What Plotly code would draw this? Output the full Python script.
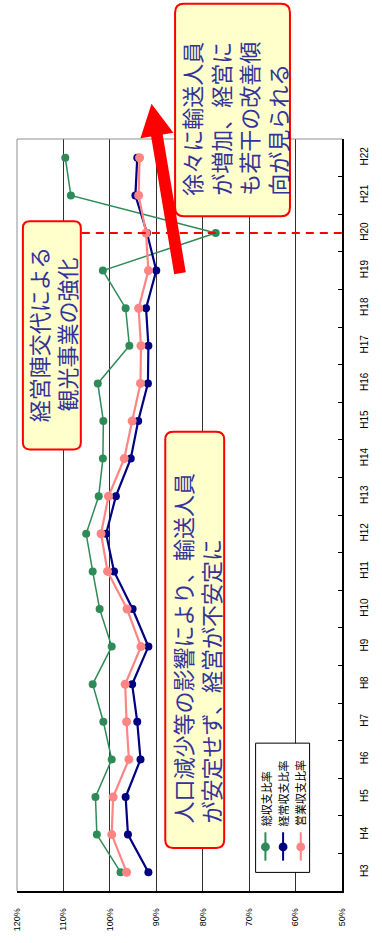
import plotly.graph_objects as go

years = ["H3", "H4", "H5", "H6", "H7", "H8", "H9", "H10", "H11", "H12",
         "H13", "H14", "H15", "H16", "H17", "H18", "H19", "H20", "H21", "H22"]
total_ratio = [97.7, 102.8, 103.1, 99.6, 101.4, 103.7, 99.6, 102.2, 103.7, 105.1,
               102.4, 101.5, 101.4, 102.6, 95.8, 96.6, 101.5, 77.2, 108.4, 109.6]
ordinary_ratio = [91.7, 96.1, 96.6, 93.4, 94.1, 95.2, 91.7, 95.1, 99.1, 100.8,
                  98.7, 95.5, 93.9, 91.8, 91.7, 92.2, 90.0, 92.0, 94.5, 94.1]
operating_ratio = [96.4, 99.6, 99.3, 95.9, 96.4, 96.7, 93.3, 96.3, 100.5, 101.9,
                   100.3, 96.9, 95.2, 93.4, 93.3, 93.8, 91.7, 92.2, 93.8, 93.6]
series_names = ["総収支比率", "経常収支比率", "営業収支比率"]
series_colors = ["#2E8B57", "#000080", "#FF8585"]
pct_ticks = [50, 60, 70, 80, 90, 100, 110, 120]
pct_labels = [f"{v}%" for v in pct_ticks]

W, H = 382, 943
L, R, T, B = 16, 347, 139, 907


def px(x):
    return (x - L) / (R - L)


def py(y):
    return (B - y) / (B - T)


def rrect(x0, y0, x1, y1, r):
    def p(x, y):
        return f"{px(x):.5f},{py(y):.5f}"
    s = f"M {p(x0 + r, y0)} L {p(x1 - r, y0)} Q {p(x1, y0)} {p(x1, y0 + r)} "
    s += f"L {p(x1, y1 - r)} Q {p(x1, y1)} {p(x1 - r, y1)} "
    s += f"L {p(x0 + r, y1)} Q {p(x0, y1)} {p(x0, y1 - r)} "
    s += f"L {p(x0, y0 + r)} Q {p(x0, y0)} {p(x0 + r, y0)} Z"
    return s


fig = go.Figure()
widths = [1.5, 2.2, 2.2]
sizes = [8, 8, 9]
for name, vals, col, w, s in zip(series_names, [total_ratio, ordinary_ratio, operating_ratio],
                                 series_colors, widths, sizes):
    fig.add_trace(go.Scatter(x=vals, y=years, mode="lines+markers", name=name,
                             line=dict(color=col, width=w),
                             marker=dict(color=col, size=s),
                             showlegend=False))

shapes = []
shapes.append(dict(type="line", xref="paper", yref="paper", x0=0, x1=1, y0=1, y1=1,
                   line=dict(color="#909090", width=1)))
shapes.append(dict(type="line", xref="paper", yref="paper", x0=0, x1=0, y0=0, y1=1,
                   line=dict(color="#909090", width=1)))
shapes.append(dict(type="line", xref="paper", yref="y", x0=px(82), x1=1,
                   y0=years.index("H20"), y1=years.index("H20"),
                   line=dict(color="#FF0000", width=2, dash="8px,6px")))
arrow_pts = [(176.1, 277.0), (187.9, 275.0), (164.4, 134.5), (175.3, 132.7),
             (153.0, 103.0), (141.7, 138.3), (152.6, 136.5)]
path = "M " + " L ".join(f"{px(x):.5f},{py(y):.5f}" for x, y in arrow_pts) + " Z"
shapes.append(dict(type="path", xref="paper", yref="paper", path=path,
                   fillcolor="#FF0000", line=dict(color="#FF0000", width=0)))
box_fill = "#FFFFCC"
for (x0, y0, x1, y1, r) in [(22, 223, 81, 456, 7), (167, 438, 227, 863, 8), (177, 1, 294, 218, 9)]:
    shapes.append(dict(type="path", xref="paper", yref="paper", path=rrect(x0, y0, x1, y1, r),
                       fillcolor=box_fill, line=dict(color="#FF0000", width=2)))
shapes.append(dict(type="rect", xref="paper", yref="paper", x0=px(259), x1=px(314),
                   y0=py(888), y1=py(756), fillcolor="white", line=dict(color="black", width=1)))
leg_x = [269, 287, 305]
for lx, col in zip(leg_x, series_colors):
    shapes.append(dict(type="line", xref="paper", yref="paper", x0=px(lx), x1=px(lx),
                       y0=py(876), y1=py(847), line=dict(color=col, width=2)))
    shapes.append(dict(type="circle", xref="paper", yref="paper", x0=px(lx - 4.5), x1=px(lx + 4.5),
                       y0=py(866.5), y1=py(857.5), fillcolor=col, line=dict(color=col, width=0)))

txt_col = "#333399"
cjk = "Noto Sans CJK JP"
annotations = [
    dict(x=px(52), y=py(339), xref="paper", yref="paper", showarrow=False, textangle=-90,
         text="経営陣交代による<br>観光事業の強化", align="center",
         font=dict(family=cjk, size=22, color=txt_col), xanchor="center", yanchor="middle"),
    dict(x=px(199), y=py(840), xref="paper", yref="paper", showarrow=False, textangle=-90,
         text="人口減少等の影響により、輸送人員<br>が安定せず、経営が不安定に", align="left",
         font=dict(family=cjk, size=22, color=txt_col), xanchor="center", yanchor="bottom"),
    dict(x=px(237), y=py(199), xref="paper", yref="paper", showarrow=False, textangle=-90,
         text="徐々に輸送人員<br>が増加、経営に<br>も若干の改善傾<br>向が見られる", align="left",
         font=dict(family=cjk, size=22, color=txt_col), xanchor="center", yanchor="bottom"),
]
for lx, name in zip(leg_x, series_names):
    annotations.append(dict(x=px(lx), y=py(843), xref="paper", yref="paper", showarrow=False,
                            textangle=-90, text=name, font=dict(family=cjk, size=11, color="black"),
                            xanchor="center", yanchor="bottom"))

fig.update_layout(
    width=W, height=H,
    margin=dict(l=L, r=W - R, t=T, b=H - B, pad=0),
    paper_bgcolor="white", plot_bgcolor="white",
    shapes=shapes, annotations=annotations,
    xaxis=dict(range=[120, 50], tickvals=pct_ticks, ticktext=pct_labels,
               tickangle=-90, tickfont=dict(family="Liberation Sans, Arial", size=9, color="black"),
               showgrid=True, gridcolor="#303030", gridwidth=1, zeroline=False,
               showline=True, linecolor="black", linewidth=1.5,
               ticks="outside", ticklen=12, tickcolor="rgba(0,0,0,0)"),
    yaxis=dict(type="category", categoryorder="array", categoryarray=years,
               range=[-0.5, len(years) - 0.5], side="right",
               tickangle=-90, tickfont=dict(family="Liberation Sans, Arial", size=10, color="black"),
               showgrid=False, zeroline=False,
               showline=True, linecolor="black", linewidth=1.5,
               ticks="inside", ticklen=4, tickcolor="black", tickson="boundaries",
               ticklabelstandoff=12),
)

fig.write_html("out.html")
